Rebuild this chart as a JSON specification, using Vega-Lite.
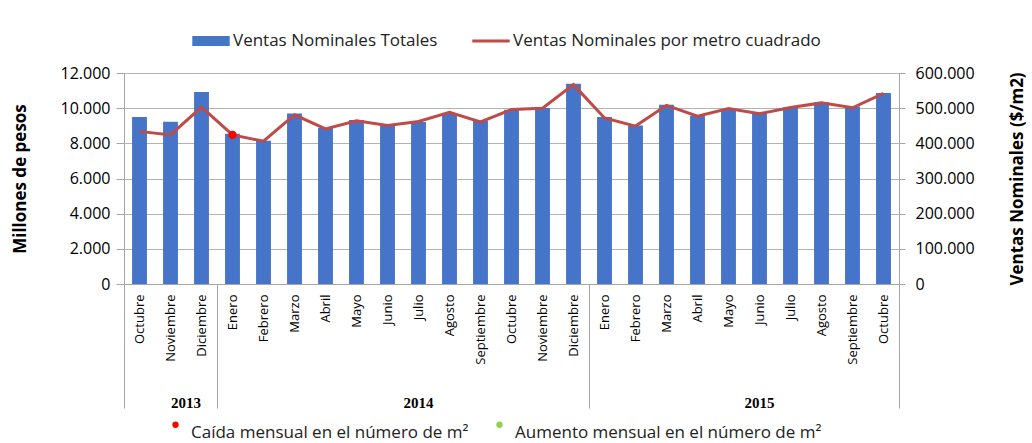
{
  "$schema": "https://vega.github.io/schema/vega-lite/v6.json",
  "width": 775,
  "height": 211,
  "autosize": {"type": "none"},
  "padding": {"left": 124, "top": 73, "right": 133, "bottom": 159},
  "background": "white",
  "config": {
    "locale": {"number": {"decimal": ",", "thousands": ".", "grouping": [3], "currency": ["$", ""]}},
    "view": {"stroke": null},
    "font": "Open Sans",
    "axis": {"labelColor": "black", "titleColor": "black", "domainColor": "#a6a6a6", "tickColor": "#a6a6a6", "gridColor": "#b3b3b3"}
  },
  "data": {
    "values": [
      {"periodo": "Octubre 2013", "ventas_totales": 9500, "ventas_m2": 434000, "cambio_m2": null},
      {"periodo": "Noviembre 2013", "ventas_totales": 9230, "ventas_m2": 424000, "cambio_m2": null},
      {"periodo": "Diciembre 2013", "ventas_totales": 10920, "ventas_m2": 503000, "cambio_m2": null},
      {"periodo": "Enero 2014", "ventas_totales": 8550, "ventas_m2": 424000, "cambio_m2": "Caída mensual en el número de m²"},
      {"periodo": "Febrero 2014", "ventas_totales": 8150, "ventas_m2": 406000, "cambio_m2": null},
      {"periodo": "Marzo 2014", "ventas_totales": 9690, "ventas_m2": 481000, "cambio_m2": null},
      {"periodo": "Abril 2014", "ventas_totales": 8870, "ventas_m2": 441000, "cambio_m2": null},
      {"periodo": "Mayo 2014", "ventas_totales": 9330, "ventas_m2": 464000, "cambio_m2": null},
      {"periodo": "Junio 2014", "ventas_totales": 9060, "ventas_m2": 451000, "cambio_m2": null},
      {"periodo": "Julio 2014", "ventas_totales": 9220, "ventas_m2": 462000, "cambio_m2": null},
      {"periodo": "Agosto 2014", "ventas_totales": 9730, "ventas_m2": 488000, "cambio_m2": null},
      {"periodo": "Septiembre 2014", "ventas_totales": 9290, "ventas_m2": 461000, "cambio_m2": null},
      {"periodo": "Octubre 2014", "ventas_totales": 9910, "ventas_m2": 496000, "cambio_m2": null},
      {"periodo": "Noviembre 2014", "ventas_totales": 10010, "ventas_m2": 500000, "cambio_m2": null},
      {"periodo": "Diciembre 2014", "ventas_totales": 11390, "ventas_m2": 567000, "cambio_m2": null},
      {"periodo": "Enero 2015", "ventas_totales": 9500, "ventas_m2": 472000, "cambio_m2": null},
      {"periodo": "Febrero 2015", "ventas_totales": 9020, "ventas_m2": 449000, "cambio_m2": null},
      {"periodo": "Marzo 2015", "ventas_totales": 10200, "ventas_m2": 508000, "cambio_m2": null},
      {"periodo": "Abril 2015", "ventas_totales": 9570, "ventas_m2": 477000, "cambio_m2": null},
      {"periodo": "Mayo 2015", "ventas_totales": 9910, "ventas_m2": 499000, "cambio_m2": null},
      {"periodo": "Junio 2015", "ventas_totales": 9760, "ventas_m2": 484000, "cambio_m2": null},
      {"periodo": "Julio 2015", "ventas_totales": 10050, "ventas_m2": 502000, "cambio_m2": null},
      {"periodo": "Agosto 2015", "ventas_totales": 10330, "ventas_m2": 515000, "cambio_m2": null},
      {"periodo": "Septiembre 2015", "ventas_totales": 10100, "ventas_m2": 501000, "cambio_m2": null},
      {"periodo": "Octubre 2015", "ventas_totales": 10860, "ventas_m2": 542000, "cambio_m2": null}
    ]
  },
  "layer": [
    {
      "mark": {"type": "bar", "width": {"band": 0.48}},
      "encoding": {
        "x": {
          "field": "periodo", "type": "ordinal", "sort": null,
          "scale": {"paddingInner": 0, "paddingOuter": 0},
          "axis": {
            "orient": "bottom", "title": null, "labelAngle": -90, "labelExpr": "split(datum.value, ' ')[0]",
            "labelFont": "Open Sans", "labelFontSize": 13, "labelPadding": 10,
            "ticks": false, "domain": true, "labelOverlap": false, "labelBound": false, "grid": false
          }
        },
        "y": {
          "field": "ventas_totales", "type": "quantitative",
          "scale": {"domain": [0, 12000]},
          "axis": {
            "values": [0, 2000, 4000, 6000, 8000, 10000, 12000], "format": ",d",
            "title": "Millones de pesos", "titleFont": "Open Sans", "titleFontSize": 17, "titleFontWeight": "bold", "titlePadding": 31,
            "labelFont": "Open Sans", "labelFontSize": 16, "labelPadding": 6, "tickSize": 8, "grid": true, "domain": true
          }
        },
        "color": {
          "datum": "Ventas Nominales Totales", "type": "nominal",
          "scale": {"domain": ["Ventas Nominales Totales", "Ventas Nominales por metro cuadrado"], "range": ["#4674c8", "#be4b48"]},
          "legend": {
            "orient": "none", "legendX": 68, "legendY": -51, "direction": "horizontal", "title": null,
            "labelFont": "Open Sans", "labelFontSize": 17, "labelColor": "#222222", "labelLimit": 500, "columnPadding": 34, "labelOffset": 3,
            "symbolSize": 1400,
            "encode": {
              "symbols": {
                "update": {
                  "shape": {"signal": "datum.value === 'Ventas Nominales Totales' ? 'M-1,-0.27H1V0.27H-1Z' : 'M-1,-0.08H1V0.08H-1Z'"},
                  "fill": {"signal": "datum.value === 'Ventas Nominales Totales' ? '#4674c8' : '#be4b48'"},
                  "strokeWidth": {"value": 0}
                }
              }
            }
          }
        }
      }
    },
    {
      "encoding": {
        "y": {
          "field": "ventas_m2", "type": "quantitative",
          "scale": {"domain": [0, 600000]},
          "axis": {
            "orient": "right", "values": [0, 100000, 200000, 300000, 400000, 500000, 600000], "format": ",d",
            "title": "Ventas Nominales ($/m2)", "titleAngle": 270, "titleFont": "Open Sans", "titleFontSize": 17, "titleFontWeight": "bold", "titlePadding": 52,
            "labelFont": "Open Sans", "labelFontSize": 16, "labelPadding": 10, "tickSize": 6, "grid": false, "domain": true
          }
        }
      },
      "layer": [
        {
          "mark": {"type": "line", "strokeWidth": 3},
          "encoding": {
            "x": {
              "field": "periodo", "type": "ordinal", "sort": null,
              "scale": {"paddingInner": 0, "paddingOuter": 0},
              "axis": {
                "orient": "bottom", "title": null, "bandPosition": 0, "domain": false, "grid": false,
                "ticks": true, "tickSize": 124,
                "tickOpacity": {"condition": {"test": "indexof(['Octubre 2013','Enero 2014','Enero 2015'], datum.value) >= 0", "value": 1}, "value": 0},
                "labelExpr": "datum.value == 'Octubre 2013' ? '2013' : datum.value == 'Enero 2014' ? '2014' : datum.value == 'Enero 2015' ? '2015' : ''",
                "labelOffset": {"condition": [{"test": "datum.value == 'Octubre 2013'", "value": 46.5}, {"test": "datum.value == 'Enero 2014'", "value": 186}], "value": 155},
                "labelAngle": 0, "labelAlign": "center", "labelBaseline": "top", "labelPadding": -13,
                "labelFont": "Liberation Serif", "labelFontSize": 15, "labelFontWeight": "bold",
                "labelOverlap": false, "labelBound": false, "labelFlush": false
              }
            },
            "color": {"datum": "Ventas Nominales por metro cuadrado", "type": "nominal"}
          }
        },
        {
          "transform": [{"filter": "datum.cambio_m2 != null"}],
          "mark": {"type": "point", "filled": true, "size": 70, "opacity": 1},
          "encoding": {
            "x": {
              "field": "periodo", "type": "ordinal", "sort": null,
              "scale": {"paddingInner": 0, "paddingOuter": 0},
              "axis": {
                "orient": "bottom", "title": null, "bandPosition": 1, "domain": false, "grid": false, "labels": false,
                "ticks": true, "tickSize": 124,
                "tickOpacity": {"condition": {"test": "datum.value == 'Octubre 2015'", "value": 1}, "value": 0}
              }
            },
            "fill": {
              "field": "cambio_m2", "type": "nominal",
              "scale": {"domain": ["Caída mensual en el número de m²", "Aumento mensual en el número de m²"], "range": ["#ff0000", "#92d050"]},
              "legend": {
                "orient": "none", "legendX": 43, "legendY": 343, "direction": "horizontal", "title": null,
                "symbolType": "circle", "symbolSize": 40, "symbolStrokeWidth": 0,
                "labelFont": "Open Sans", "labelFontSize": 17, "labelColor": "#222222", "labelLimit": 500, "labelOffset": 7, "columnPadding": 22,
                "labelBaseline": "top"
              }
            }
          }
        }
      ],
      "resolve": {"axis": {"x": "independent"}}
    }
  ],
  "resolve": {"scale": {"y": "independent"}, "axis": {"x": "independent"}}
}
